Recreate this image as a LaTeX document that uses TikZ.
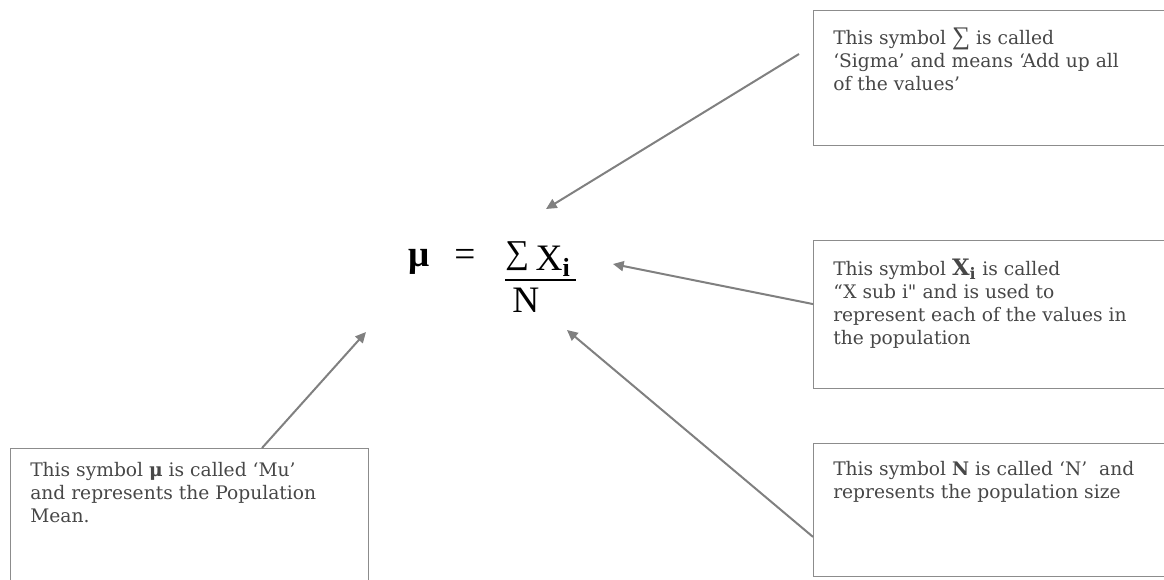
\documentclass[tikz,border=0pt]{standalone}
\usepackage{fontspec}
\setmainfont{DejaVu Serif}
\newfontfamily\plainfont{DejaVu Serif}
\newfontfamily\formfont{Liberation Serif}
\usepackage{tikz}
\usetikzlibrary{arrows.meta,positioning}

\begin{document}
\begin{tikzpicture}[x=0.75pt, y=-0.75pt, >={Triangle[length=8pt,width=7.5pt]},
  callbox/.style={draw=boxcol, line width=1.1pt, anchor=north west, inner sep=0pt},
  calltext/.style={anchor=north west, align=left, inner sep=0pt, text=textcol,
    font=\fontsize{14}{17.25}\selectfont},
  formula/.style={anchor=base west, inner sep=0pt, font=\formfont\fontsize{28}{30}\selectfont},
  pointer/.style={->, draw=arrowcol, fill=arrowcol, line width=1.5pt}]
  % Define colors
  \colorlet{boxcol}{black!45}
  \colorlet{arrowcol}{black!50}
  \colorlet{textcol}{black!72}

  \useasboundingbox (0,0) rectangle (1164,579);
  \clip (0,0) rectangle (1164,579);

  % The formula
  \node[formula] (mu) at (408,266) {\textbf{μ}};
  \node[formula] (eq) at (454,266) {=};
  \node[formula] (num) at (505,270) {\raisebox{5pt}{\fontsize{25}{30}\selectfont ∑}\hspace{5pt}X\textsubscript{\textbf{i}}};
  \node[formula] (den) at (512,312) {N};
  \draw[line width=1.5pt] (505,280) -- (576,280);

  % Call-out boxes
  \node[callbox, minimum width=285pt, minimum height=101.25pt] (sigbox) at (813,10) {};
  \node[callbox, minimum width=285pt, minimum height=111pt] (xibox) at (813,240) {};
  \node[callbox, minimum width=285pt, minimum height=99.75pt] (nbox) at (813,443) {};
  \node[callbox, minimum width=268.5pt, minimum height=112.5pt] (mubox) at (10,448) {};

  % Texts in the boxes
  \node[calltext] (sigtext) at ([shift={(20,18)}]sigbox.north west)
    {This symbol {\formfont\fontsize{19}{17.25}\selectfont ∑} is called\\ ‘Sigma’ and means ‘Add up all\\ of the values’};
  \node[calltext] (xitext) at ([shift={(20,19)}]xibox.north west)
    {This symbol {\fontsize{17}{17.25}\selectfont\textbf{X}\textsubscript{\textbf{i}}} is called\\ “X sub i{\plainfont "} and is used to\\ represent each of the values in\\ the population};
  \node[calltext] (ntext) at ([shift={(20,18)}]nbox.north west)
    {This symbol \textbf{N} is called ‘N’ \ and\\ represents the population size};
  \node[calltext] (mutext) at ([shift={(20,14)}]mubox.north west)
    {This symbol \textbf{μ} is called ‘Mu’\\ and represents the Population\\ Mean.};

  % Pointers
  \coordinate (sigtail) at (799,54);
  \coordinate (sigtip) at (546,209);
  \coordinate (xitip) at (613,264);
  \coordinate (ntip) at (567,330);
  \coordinate (mutip) at (366,332);
  \draw[pointer] (sigtail) -- (sigtip);
  \draw[pointer] ([yshift=8pt]xibox.west) -- (xitip);
  \draw[pointer] ([yshift=-20pt]nbox.west) -- (ntip);
  \draw[pointer] ([xshift=189pt]mubox.north west) -- (mutip);
\end{tikzpicture}
\end{document}
